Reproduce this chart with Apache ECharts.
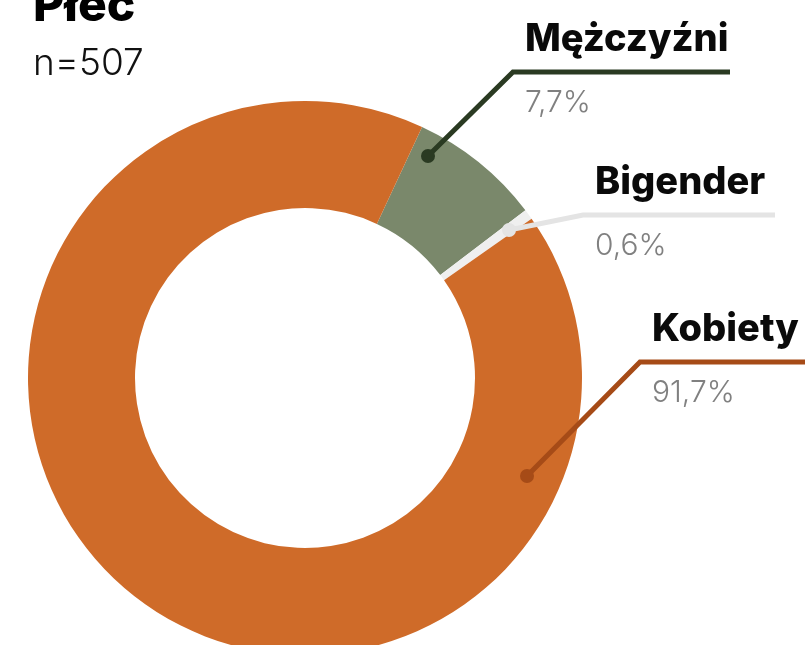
<!DOCTYPE html>
<html>
<head>
<meta charset="utf-8">
<script src="https://cdn.jsdelivr.net/npm/echarts@6/dist/echarts.min.js"></script>
<style>
  html, body { margin: 0; padding: 0; background: #fff; }
  #chart { width: 805px; height: 645px; }
</style>
</head>
<body>
<div id="chart"></div>
<script>
// data
var categories = ['Mężczyźni', 'Bigender', 'Kobiety'];
var shares = [7.7, 0.6, 91.7];
var sampleSize = 507;

var sliceColors = ['#7A886B', '#EFEFEF', '#CF6B29'];
var lineColors = ['#2A3A22', '#E4E4E4', '#A64B17'];

// annotation layout: dot inside slice, elbow, line end
var callouts = [
  { dot: [428, 156], elbow: [513, 72], end: [730, 72] },
  { dot: [509, 230], elbow: [583, 215], end: [775, 215] },
  { dot: [527, 476], elbow: [640, 362], end: [805, 362] }
];

var myChart = echarts.init(document.getElementById('chart'));

var dots = callouts.map(function (c, i) {
  return {
    type: 'circle',
    shape: { cx: c.dot[0], cy: c.dot[1], r: 7 },
    style: { fill: lineColors[i] },
    z: 100
  };
});

var pieData = categories.map(function (name, i) {
  return {
    name: name,
    value: shares[i],
    itemStyle: { color: sliceColors[i] },
    labelLine: { lineStyle: { color: lineColors[i] } }
  };
});

var option = {
  animation: false,
  title: {
    text: 'Płeć',
    subtext: 'n=' + sampleSize,
    left: 28,
    top: -22,
    itemGap: 14,
    textStyle: { fontFamily: 'Inter', fontSize: 48, fontWeight: 800, color: '#000' },
    subtextStyle: { fontFamily: 'Inter', fontSize: 37, fontWeight: 300, color: '#111' }
  },
  graphic: dots,
  series: [
    {
      // the ring itself
      type: 'pie',
      center: [305, 378],
      radius: [170, 277],
      startAngle: 65,
      silent: true,
      z: 1,
      label: { show: false },
      labelLine: { show: false },
      data: pieData
    },
    {
      // same data, transparent slices, carries the callouts above the ring
      type: 'pie',
      center: [305, 378],
      radius: [170, 277],
      startAngle: 65,
      silent: true,
      z: 5,
      avoidLabelOverlap: false,
      data: pieData.map(function (d) {
        return {
          name: d.name,
          value: d.value,
          itemStyle: { color: 'rgba(0,0,0,0)' },
          labelLine: d.labelLine
        };
      }),
      label: {
        show: true,
        position: 'outside',
        formatter: function (p) {
          return '{n|' + p.name + '}\n{p|' + String(p.value).replace('.', ',') + '%}';
        },
        rich: {
          n: { fontFamily: 'Inter', fontSize: 38, fontWeight: 800, color: '#0a0a0a', lineHeight: 48, padding: [7, 0, 15, 0] },
          p: { fontFamily: 'Inter', fontSize: 30, fontWeight: 300, color: '#808080', lineHeight: 56, padding: [14, 0, 0, 0] }
        }
      },
      labelLine: {
        show: true,
        length: 20,
        length2: 20,
        smooth: false,
        lineStyle: { width: 5 }
      },
      labelLayout: function (params) {
        var c = callouts[params.dataIndex];
        return {
          x: c.elbow[0] + 12,
          y: c.elbow[1],
          align: 'left',
          verticalAlign: 'middle',
          labelLinePoints: [c.dot, c.elbow, c.end]
        };
      }
    }
  ]
};

myChart.setOption(option);
window.addEventListener('resize', function () {
  myChart.resize();
});
</script>
</body>
</html>
